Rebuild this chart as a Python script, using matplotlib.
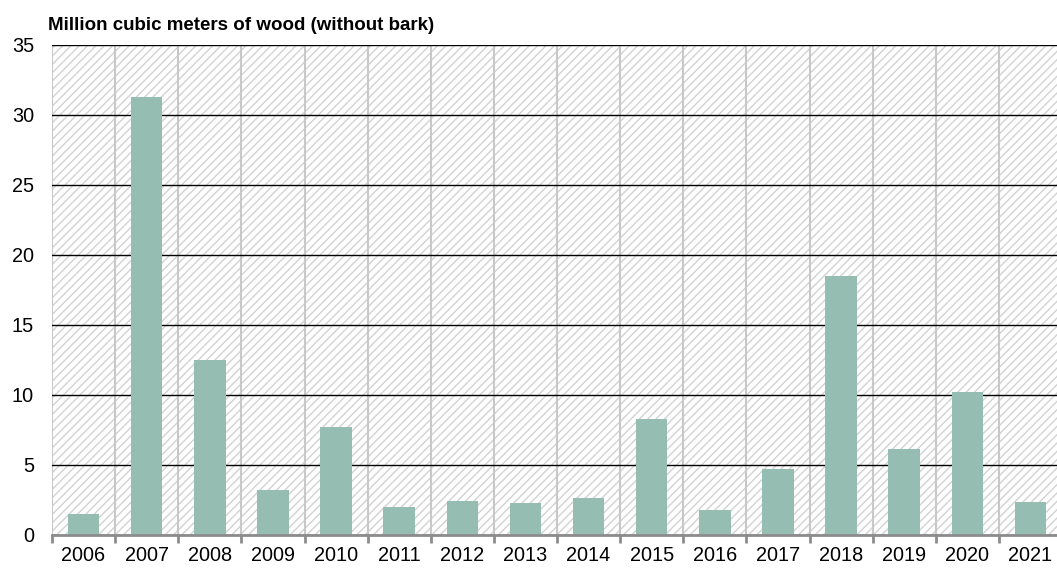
import matplotlib
matplotlib.use("Agg")
import matplotlib.pyplot as plt
from matplotlib.patches import Rectangle
from matplotlib.ticker import FixedLocator
import numpy as np

years = ["2006", "2007", "2008", "2009", "2010", "2011", "2012", "2013",
         "2014", "2015", "2016", "2017", "2018", "2019", "2020", "2021"]
volumes = [1.5, 31.3, 12.5, 3.2, 7.7, 2.0, 2.4, 2.3,
           2.65, 8.3, 1.8, 4.7, 18.5, 6.15, 10.2, 2.35]
y_ticks = [0, 5, 10, 15, 20, 25, 30, 35]
title = "Million cubic meters of wood (without bark)"

plt.rcParams["font.family"] = ["Liberation Sans", "DejaVu Sans"]
plt.rcParams["hatch.linewidth"] = 1.0

fig = plt.figure(figsize=(10.57, 5.70), dpi=100)
ax = fig.add_axes([52 / 1057, 35 / 570, 1010 / 1057, 490 / 570])

# hatched plot background
bg = Rectangle((0, 0), 1, 1, transform=ax.transAxes, facecolor="white",
               edgecolor="#d2d2d2", hatch="////", linewidth=0, zorder=0.1)
ax.add_patch(bg)
ax.patch.set_visible(False)

x = np.arange(len(years))
ax.bar(x, volumes, width=0.5, color="#96bdb2", zorder=2)

ax.set_xlim(-0.5, len(years) - 0.5)
ax.set_ylim(0, 35)

ax.set_xticks(x)
ax.set_xticklabels(years)
ax.xaxis.set_minor_locator(FixedLocator(np.arange(-0.5, len(years), 1.0)))
ax.tick_params(axis="x", which="major", length=0, pad=8, labelsize=14.3)
ax.tick_params(axis="x", which="minor", length=6, width=2, color="#8c8c8c")
ax.set_yticks(y_ticks)
ax.tick_params(axis="y", length=0, pad=13, labelsize=14.3)

ax.grid(axis="y", which="major", color="black", linewidth=1.0, zorder=0.5)
ax.grid(axis="x", which="minor", color="#c8c8c8", linewidth=1.5, zorder=0.5)
ax.grid(axis="x", which="major", visible=False)
ax.set_axisbelow(True)

for s in ["top", "right", "left"]:
    ax.spines[s].set_visible(False)
ax.spines["bottom"].set_color("#8c8c8c")
ax.spines["bottom"].set_linewidth(2)
ax.spines["bottom"].set_zorder(3)

fig.text(48 / 1057, 1 - 30 / 570, title, fontsize=13.5, fontweight="bold",
         ha="left", va="baseline")

fig.savefig("out.png", dpi=100)
